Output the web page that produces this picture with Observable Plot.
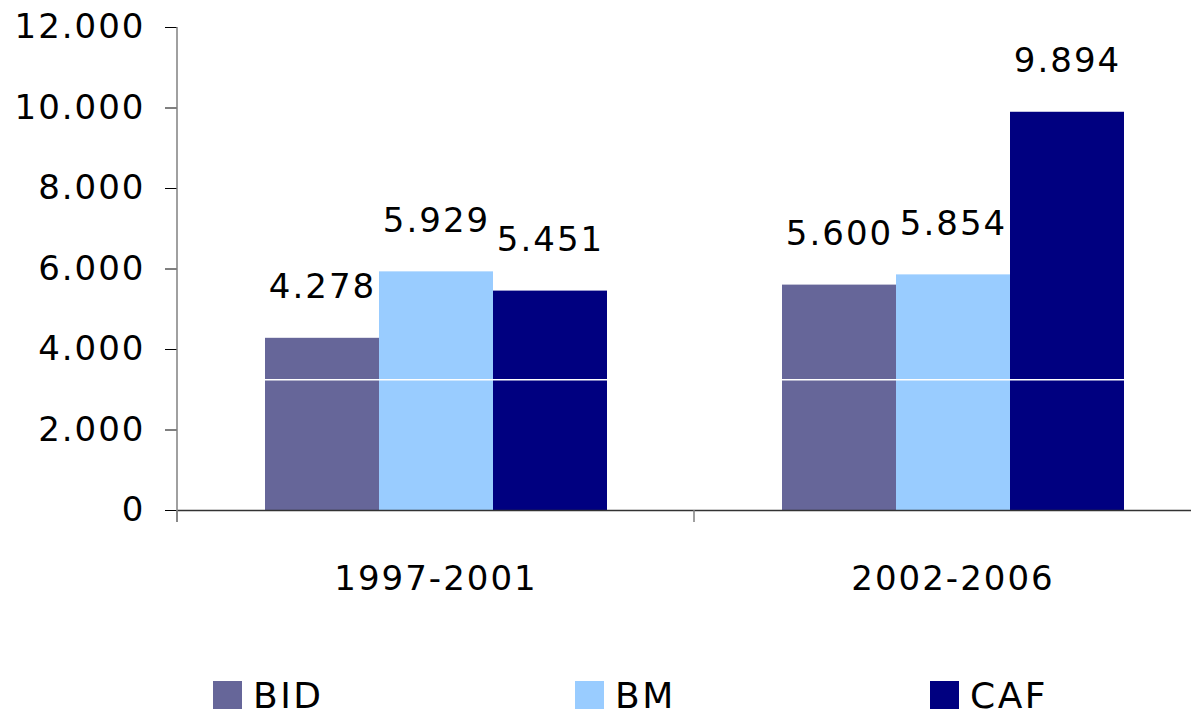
<!DOCTYPE html>
<html>
<head>
<meta charset="utf-8">
<script src="https://cdn.jsdelivr.net/npm/d3@7"></script>
<script src="https://cdn.jsdelivr.net/npm/@observablehq/plot@0.6"></script>
<style>
  html, body { margin: 0; padding: 0; background: #fff; overflow: hidden; }
  #chart svg { max-width: none !important; display: block; }
  .legend { position: relative; height: 57px; width: 1191px; font-family: "DejaVu Sans", sans-serif; font-size: 36px; letter-spacing: 2.5px; color: #000; }
  .legend .sw { position: absolute; top: 21px; width: 29px; height: 28px; }
  .legend .lb { position: absolute; top: 18.5px; height: 34px; line-height: 34px; white-space: nowrap; }
</style>
</head>
<body>
<div id="chart"></div>
<div class="legend" id="legend"></div>
<script>
const periods = ["1997-2001", "2002-2006"];
const series = ["BID", "BM", "CAF"];
const colors = ["#666699", "#99CCFF", "#000080"];
const bidValues = [4278, 5600];
const bmValues = [5929, 5854];
const cafValues = [5451, 9894];
const yTicks = [0, 2000, 4000, 6000, 8000, 10000, 12000];
const whiteLine = [3250];

const valuesBySeries = {BID: bidValues, BM: bmValues, CAF: cafValues};
const rows = [];
periods.forEach((p, i) => series.forEach(s => rows.push({period: p, series: s, value: valuesBySeries[s][i]})));

const fmt = d => d3.format(",")(d).replace(/,/g, ".");

const W = 1211, H = 660;
const plot = Plot.plot({
  width: W,
  height: H,
  marginLeft: 177,
  marginRight: 0,
  marginTop: 27,
  marginBottom: 150,
  style: {fontFamily: "DejaVu Sans, sans-serif", fontSize: "34px", letterSpacing: "2px", color: "#000", background: "#fff", maxWidth: "none", overflow: "visible"},
  fx: {domain: periods, padding: 0, axis: "bottom", tickSize: 0, tickPadding: 55, label: null},
  x: {domain: series, paddingInner: 0, paddingOuter: 0.75, axis: null},
  y: {domain: [0, 12000], ticks: yTicks, tickFormat: fmt, tickSize: 12, tickPadding: 20, label: null},
  color: {domain: series, range: colors},
  marks: [
    Plot.barY(rows, {fx: "period", x: "series", y: "value", fill: "series", inset: 0}),
    Plot.ruleY(whiteLine, {stroke: "#fff", strokeWidth: 1.5}),
    Plot.ruleY([0], {stroke: "#333", strokeWidth: 1.5}),
    Plot.text(rows, {fx: "period", x: "series", y: "value", text: d => fmt(d.value), dy: -40, lineAnchor: "bottom", fill: "#000"})
  ]
});
document.getElementById("chart").appendChild(plot);

// axis decorations from the plot's own scales
const fxS = plot.scale("fx");
const yS = plot.scale("y");
const yLin = d3.scaleLinear(yS.domain, yS.range);
const svg = d3.select(plot);
const g = svg.append("g");
const x0 = fxS.range[0], x1 = fxS.range[1];
const step = (x1 - x0) / periods.length;
g.append("line")
  .attr("x1", x0).attr("x2", x0)
  .attr("y1", yLin(12000)).attr("y2", yLin(0) + 12)
  .attr("stroke", "#808080").attr("stroke-width", 1.5);
for (let i = 0; i <= periods.length; i++) {
  const xx = x0 + i * step;
  g.append("line")
    .attr("x1", xx).attr("x2", xx)
    .attr("y1", yLin(0)).attr("y2", yLin(0) + 12)
    .attr("stroke", "#808080").attr("stroke-width", 1.5);
}

// legend
const legendLefts = [213, 575, 930];
const legend = document.getElementById("legend");
series.forEach((s, i) => {
  const sw = document.createElement("div");
  sw.className = "sw";
  sw.style.left = legendLefts[i] + "px";
  sw.style.background = colors[i];
  legend.appendChild(sw);
  const lb = document.createElement("div");
  lb.className = "lb";
  lb.style.left = (legendLefts[i] + 40) + "px";
  lb.textContent = s;
  legend.appendChild(lb);
});
</script>
</body>
</html>
